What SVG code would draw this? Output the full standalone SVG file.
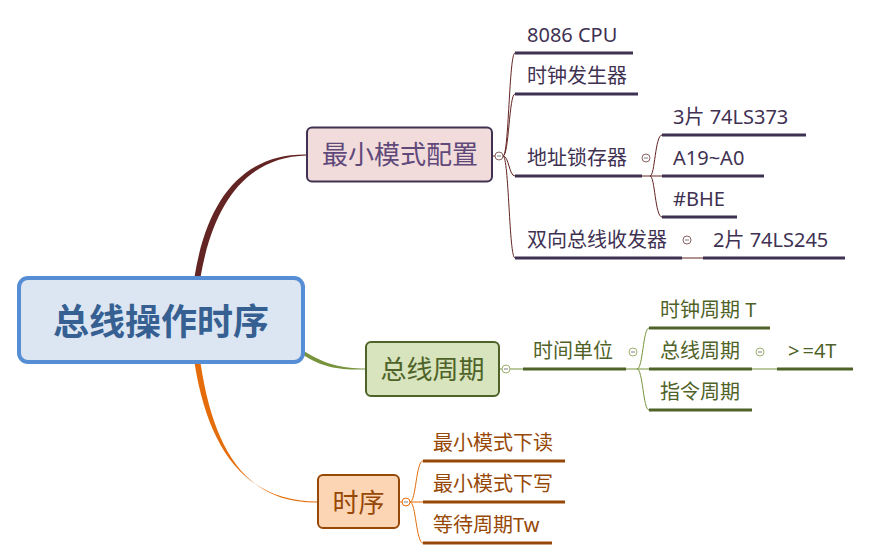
<svg xmlns="http://www.w3.org/2000/svg" width="871" height="560" viewBox="0 0 871 560">
<style>
text{font-family:"Noto Sans","Noto Sans CJK SC",sans-serif;}
.t1{font-size:20px;fill:#403152;}
.t2{font-size:20px;fill:#4f6228;}
.t3{font-size:20px;fill:#974806;}
.u1{stroke:#3f3151;stroke-width:3;fill:none;}
.u2{stroke:#4f6228;stroke-width:3;fill:none;}
.u3{stroke:#974806;stroke-width:3;fill:none;}
.c1{stroke:#632523;stroke-width:1;fill:none;}
.c2{stroke:#77933c;stroke-width:1;fill:none;}
.c3{stroke:#e46c0a;stroke-width:1;fill:none;}
.k{fill:#fff;stroke-width:1;}
.m{stroke:#7f7f7f;stroke-width:1;}
</style>
<rect width="871" height="560" fill="#fff"/>
<g id="connectors">
<path d="M194.5,277 C207,199 243,153.5 307,154.5 L307,155.5 C246,157 213.5,203 200.5,277 Z" fill="#632523"/>
<path d="M303,350.5 C325,364 340,368.5 366,368.5 L366,369.5 C339,370 324,368 303,355 Z" fill="#77933c"/>
<path d="M194.5,363 C209,453 248,501.5 317,501.5 L317,502.5 C247,503 214,452 200.5,363 Z" fill="#e46c0a"/>
<path class="c1" d="M492,156 L495,156"/>
<path class="c1" d="M503,156 C509,156 509,53 515,53 M503,156 C509,156 509,94 515,94 M503,156 C509,156 509,176 515,176 M503,156 C509,156 509,258 515,258"/>
<path class="c1" d="M642,176 L662,176 M650,176 C655,176 655,135 662,135 M650,176 C655,176 655,217 662,217"/>
<path class="c1" d="M682,258 L703,258"/>
<path class="c2" d="M499,369 L502,369 M510,369 L523,369"/>
<path class="c2" d="M626,369 L649,369 M637,369 C643,369 643,328 649,328 M637,369 C643,369 643,410 649,410"/>
<path class="c2" d="M752,369 L777,369"/>
<path class="c3" d="M399,502 L402,502 M410,502 L423,502 M410,502 C416,502 416,461 423,461 M410,502 C416,502 416,543 423,543"/>
</g>
<g id="root">
<rect x="19" y="278" width="284" height="84" rx="9" fill="#dce6f2" stroke="#558ed5" stroke-width="4"/>
<text x="161" y="335" text-anchor="middle" font-size="36" font-weight="bold" fill="#376092">总线操作时序</text>
</g>
<g id="b1">
<rect x="307" y="127.5" width="185" height="54" rx="5" fill="#f2dcdb" stroke="#3f3151" stroke-width="2"/>
<text x="400" y="164" text-anchor="middle" font-size="26" fill="#5f497a">最小模式配置</text>
<circle class="k" cx="499" cy="156" r="4" stroke="#8c6161"/><path class="m" d="M497,156 L501,156"/>
</g>
<g id="b1-1"><text class="t1" x="527" y="42">8086 CPU</text><path class="u1" d="M515,53 L633,53"/></g>
<g id="b1-2"><text class="t1" x="527" y="83">时钟发生器</text><path class="u1" d="M515,94 L638,94"/></g>
<g id="b1-3"><text class="t1" x="527" y="165">地址锁存器</text><path class="u1" d="M515,176 L642,176"/>
<circle class="k" cx="646" cy="158" r="4" stroke="#8c6161"/><path class="m" d="M644,158 L648,158"/></g>
<g id="b1-3-1"><text class="t1" x="673" y="124">3片 74LS373</text><path class="u1" d="M662,135 L806,135"/></g>
<g id="b1-3-2"><text class="t1" x="673" y="165">A19~A0</text><path class="u1" d="M662,176 L764,176"/></g>
<g id="b1-3-3"><text class="t1" x="673" y="206">#BHE</text><path class="u1" d="M662,217 L737,217"/></g>
<g id="b1-4"><text class="t1" x="527" y="247">双向总线收发器</text><path class="u1" d="M515,258 L682,258"/>
<circle class="k" cx="687" cy="240" r="4" stroke="#8c6161"/><path class="m" d="M685,240 L689,240"/></g>
<g id="b1-4-1"><text class="t1" x="713" y="247">2片 74LS245</text><path class="u1" d="M703,258 L845,258"/></g>
<g id="b2">
<rect x="366" y="342" width="133" height="54" rx="5" fill="#d7e4bd" stroke="#4f6228" stroke-width="2"/>
<text x="432.5" y="379" text-anchor="middle" font-size="26" fill="#4f6228">总线周期</text>
<circle class="k" cx="506" cy="369" r="4" stroke="#9bb06b"/><path class="m" d="M504,369 L508,369"/>
</g>
<g id="b2-1"><text class="t2" x="533" y="358">时间单位</text><path class="u2" d="M523,369 L626,369"/>
<circle class="k" cx="633" cy="352" r="4" stroke="#9bb06b"/><path class="m" d="M631,352 L635,352"/></g>
<g id="b2-1-1"><text class="t2" x="660" y="317">时钟周期 T</text><path class="u2" d="M649,328 L770,328"/></g>
<g id="b2-1-2"><text class="t2" x="660" y="358">总线周期</text><path class="u2" d="M649,369 L752,369"/>
<circle class="k" cx="760" cy="352" r="4" stroke="#9bb06b"/><path class="m" d="M758,352 L762,352"/></g>
<g id="b2-1-2-1"><text class="t2" x="788" y="358">&gt;<tspan dx="3">=4T</tspan></text><path class="u2" d="M777,369 L853,369"/></g>
<g id="b2-1-3"><text class="t2" x="660" y="399">指令周期</text><path class="u2" d="M649,410 L752,410"/></g>
<g id="b3">
<rect x="318" y="475" width="81" height="53" rx="5" fill="#fcd5b4" stroke="#974806" stroke-width="2"/>
<text x="358.5" y="511.5" text-anchor="middle" font-size="26" fill="#974806">时序</text>
<circle class="k" cx="406" cy="502" r="4" stroke="#e46c0a"/><path class="m" d="M404,502 L408,502"/>
</g>
<g id="b3-1"><text class="t3" x="433" y="450">最小模式下读</text><path class="u3" d="M423,461 L565,461"/></g>
<g id="b3-2"><text class="t3" x="433" y="491">最小模式下写</text><path class="u3" d="M423,502 L565,502"/></g>
<g id="b3-3"><text class="t3" x="433" y="532">等待周期Tw</text><path class="u3" d="M423,543 L552,543"/></g>
</svg>
